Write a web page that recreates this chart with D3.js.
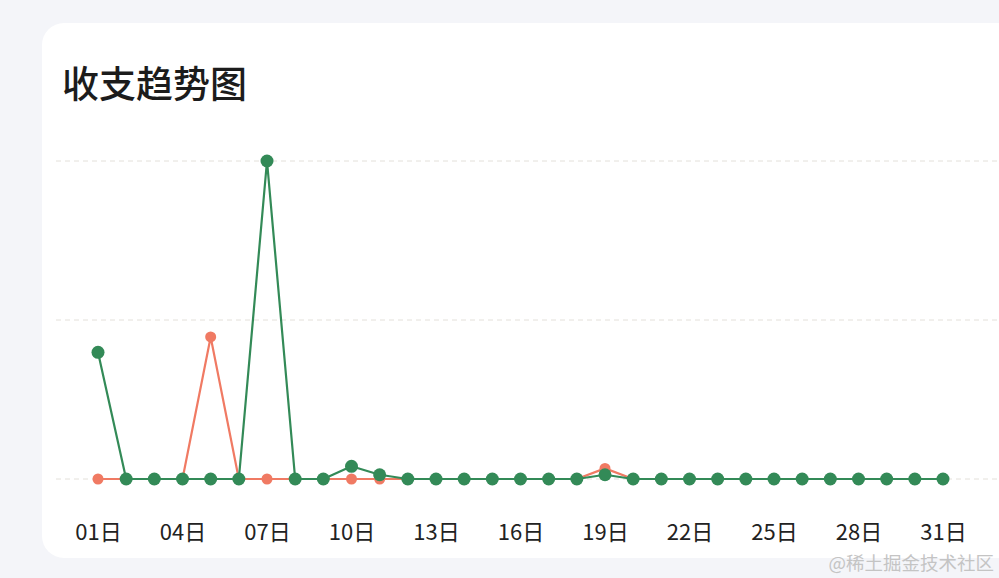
<!DOCTYPE html>
<html><head><meta charset="utf-8">
<script src="https://cdn.jsdelivr.net/npm/d3@7"></script>
<style>
html,body{margin:0;padding:0;background:#f4f5f9;}
svg{display:block;}
</style></head>
<body>
<svg id="c" width="999" height="578"></svg>
<script>
const days = d3.range(1, 32);
const title = "收支趋势图";
const expense = [0,0,0,0,1340,0,0,0,0,0,0,0,0,0,0,0,0,0,100,0,0,0,0,0,0,0,0,0,0,0,0];
const income  = [1195,0,0,0,0,0,3000,0,0,120,40,0,0,0,0,0,0,0,40,0,0,0,0,0,0,0,0,0,0,0,0];
const yTicks = [0,1500,3000];
const tickDays = [1,4,7,10,13,16,19,22,25,28,31];
const watermark = "@稀土掘金技术社区";

const svg = d3.select("#c");
const font = "'Noto Sans CJK SC', 'Noto Sans', sans-serif";

svg.append("rect").attr("x",42).attr("y",23).attr("width",980).attr("height",535)
  .attr("rx",22).attr("fill","#ffffff");

svg.append("text").attr("x",62).attr("y",98).text(title)
  .attr("font-family",font).attr("font-size",37).attr("font-weight",500).attr("fill","#1c1c1c");

const x = d3.scaleLinear().domain([1,31]).range([98,943]);
const y = d3.scaleLinear().domain([0,3000]).range([479,161]);

const grid = svg.append("g");
grid.selectAll("line").data(yTicks).join("line")
  .attr("x1",56).attr("x2",999).attr("y1",d=>y(d)).attr("y2",d=>y(d))
  .attr("stroke","#e3e0da").attr("stroke-width",1).attr("stroke-dasharray","5,4");

const xAxis = d3.axisBottom(x).tickValues(tickDays)
  .tickFormat(d=>String(d).padStart(2,"0")+"日").tickSize(0).tickPadding(0);
const gx = svg.append("g").attr("transform","translate(0,524)").call(xAxis);
gx.select(".domain").remove();
gx.selectAll("text").attr("font-family",font).attr("font-size",22).attr("fill","#222");

const line = d3.line().x((d,i)=>x(days[i])).y(d=>y(d));

function series(vals, color, r){
  const g = svg.append("g");
  g.append("path").datum(vals).attr("d",line).attr("fill","none")
    .attr("stroke",color).attr("stroke-width",2.2).attr("stroke-linejoin","round");
  g.selectAll("circle").data(vals).join("circle")
    .attr("cx",(d,i)=>x(days[i])).attr("cy",d=>y(d)).attr("r",r).attr("fill",color);
}
series(expense, "#f07a63", 5.5);
series(income, "#338a57", 6.5);

svg.append("text").attr("x",994).attr("y",570).attr("text-anchor","end").text(watermark)
  .attr("font-family",font).attr("font-size",18.5).attr("fill","#c4c4c4");
</script>
</body></html>
